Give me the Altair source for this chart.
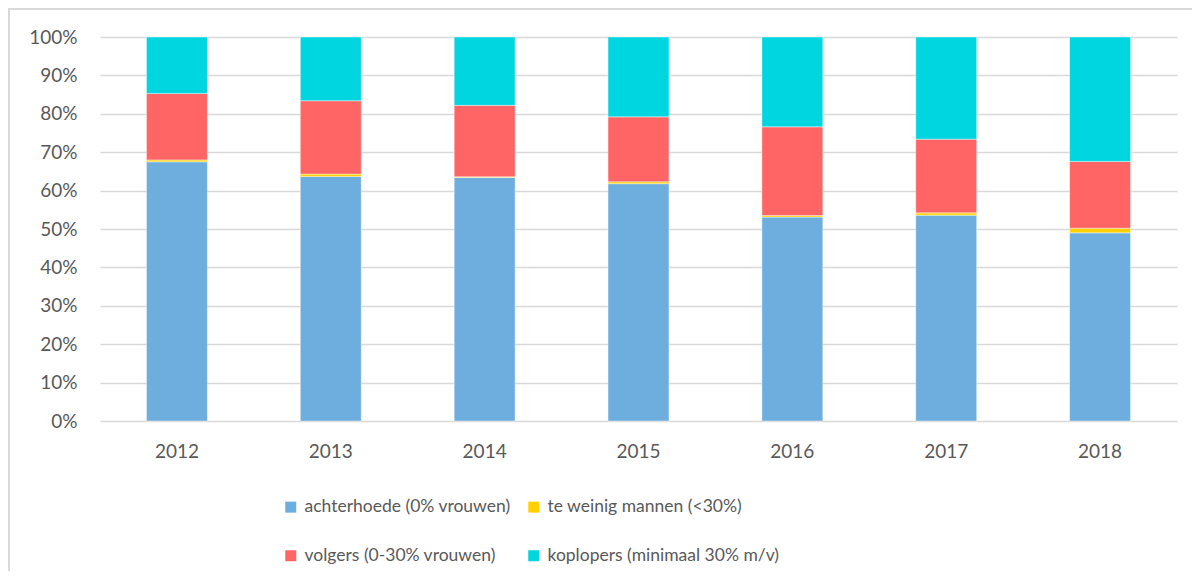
import altair as alt
import pandas as pd

years = ["2012", "2013", "2014", "2015", "2016", "2017", "2018"]
achterhoede = [67.5, 63.7, 63.4, 61.8, 53.1, 53.6, 49.0]
te_weinig_mannen = [0.5, 0.6, 0.2, 0.5, 0.4, 0.6, 1.2]
volgers = [17.3, 19.1, 18.6, 16.9, 23.1, 19.2, 17.4]
koplopers = [14.7, 16.6, 17.8, 20.8, 23.4, 26.6, 32.4]

categories = [
    "achterhoede (0% vrouwen)",
    "te weinig mannen (<30%)",
    "volgers (0-30% vrouwen)",
    "koplopers (minimaal 30% m/v)",
]
colors = ["#6DAEDE", "#FFD100", "#FF6565", "#00D6E0"]
# legend fills column by column: order so rows read as in the reference
legend_order = [0, 2, 1, 3]
y_ticks = [0, 0.1, 0.2, 0.3, 0.4, 0.5, 0.6, 0.7, 0.8, 0.9, 1.0]

series = [achterhoede, te_weinig_mannen, volgers, koplopers]
rows = []
for i, yr in enumerate(years):
    for k, cat in enumerate(categories):
        rows.append({"year": yr, "serie": cat, "value": series[k][i] / 100, "idx": k})
df = pd.DataFrame(rows)

FONT = "Lato"
TXT = "#595959"
W, H = 1077, 384

bars = alt.Chart(df).mark_bar(stroke="white", strokeWidth=0.6, strokeOpacity=0.7).encode(
    x=alt.X("year:N", sort=years,
            scale=alt.Scale(paddingInner=0.604, paddingOuter=0.302),
            axis=alt.Axis(title=None, labelAngle=0, ticks=False, domain=False, grid=False,
                          labelPadding=21, labelFontSize=19, labelColor=TXT, labelFont=FONT)),
    y=alt.Y("value:Q", stack="zero",
            scale=alt.Scale(domain=[0, 1], nice=False),
            axis=alt.Axis(title=None, format=".0%", values=y_ticks, ticks=False, domain=False,
                          grid=True, gridColor="#D9D9D9", gridWidth=1.5,
                          labelPadding=23, labelFontSize=19, labelColor=TXT, labelFont=FONT)),
    color=alt.Color("serie:N",
                    scale=alt.Scale(domain=[categories[j] for j in legend_order],
                                    range=[colors[j] for j in legend_order]),
                    legend=alt.Legend(title=None, orient="none", legendX=182, legendY=461,
                                      columns=2, columnPadding=14, rowPadding=30,
                                      symbolType="square", symbolSize=121, symbolStrokeWidth=0,
                                      symbolOpacity=1, labelFontSize=17.5, labelFont=FONT,
                                      labelColor=TXT, labelOffset=5, padding=0, gridAlign="each",
                                      labelLimit=400)),
    order=alt.Order("idx:Q", sort="ascending"),
)

frame_src = pd.DataFrame({"a": [0]})
frame_left = alt.Chart(frame_src).mark_rule(color="#D9D9D9", strokeWidth=2).encode(
    x=alt.value(-91), y=alt.value(-29), y2=alt.value(H + 160))
frame_top = alt.Chart(frame_src).mark_rule(color="#D9D9D9", strokeWidth=2).encode(
    x=alt.value(-91), x2=alt.value(W + 20), y=alt.value(-28))

chart = alt.layer(bars, frame_left, frame_top).properties(
    width=W, height=H,
    autosize=alt.AutoSizeParams(type="none"),
    padding={"left": 92, "top": 29, "right": 15, "bottom": 150},
    background="white",
).configure_view(stroke=None)

chart.save("out.html", embed_options={"renderer": "svg", "actions": False})
